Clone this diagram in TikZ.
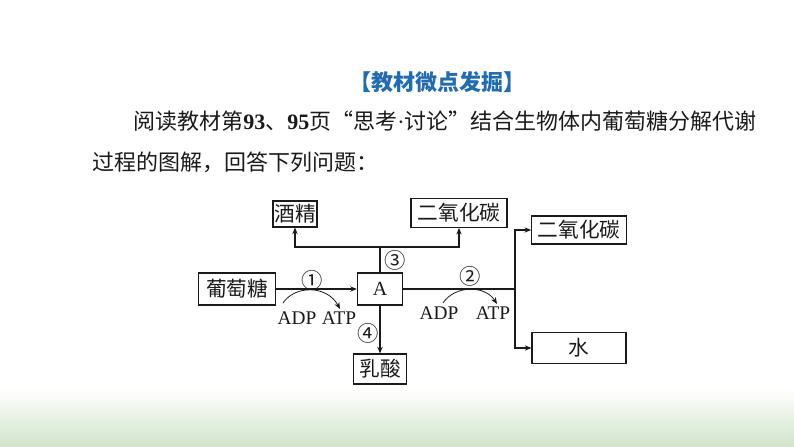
\documentclass[tikz,border=0pt]{standalone}
\usepackage{fontspec}
\setmainfont{Liberation Serif}
\newfontfamily\cjk{Noto Sans CJK SC}
\usetikzlibrary{arrows.meta, positioning, calc}
\definecolor{tblue}{HTML}{1F6CB4}
\definecolor{tgreen}{HTML}{D2E3CB}
\definecolor{tink}{HTML}{1A1A1A}

\tikzset{
  box/.style={draw=tink, line width=0.8pt, inner sep=0pt, text=tink,
    font=\cjk\fontsize{15.5}{15.5}\selectfont},
  flow/.style={draw=tink, line width=0.8pt, -{Stealth[length=5pt, width=4pt]}},
  link/.style={draw=tink, line width=0.8pt},
  arcflow/.style={draw=tink, line width=0.6pt, -{Stealth[length=5pt, width=4pt]}},
  lbl/.style={inner sep=0pt, text=tink, font=\fontsize{14.5}{14.5}\selectfont},
  num/.style={inner sep=0pt, text=tink, font=\cjk\fontsize{16}{16}\selectfont},
}

\begin{document}
\begin{tikzpicture}[x=0.75pt, y=-0.75pt]

%% Background
\useasboundingbox (0,0) rectangle (794,447);
\fill[white] (0,0) rectangle (794,447);
\shade[top color=white, bottom color=tgreen] (0,388) rectangle (794,447);

%% ── Heading and question text ─────────────────────────────────────────
\node[font=\cjk\bfseries\fontsize{16.5}{16.5}\selectfont, text=tblue] (title) at (437,82) {【教材微点发掘】};
\node[anchor=west, font=\cjk\fontsize{16.5}{16.5}\selectfont, text=tink, inner sep=0pt] (para1) at (133,121)
  {阅读教材第{\rmfamily\bfseries 93}、{\rmfamily\bfseries 95}页“思考{\rmfamily ·}讨论”结合生物体内葡萄糖分解代谢};
\node[anchor=west, font=\cjk\fontsize{16.5}{16.5}\selectfont, text=tink, inner sep=0pt] (para2) at (92,162)
  {过程的图解，回答下列问题：};

%% ── Boxes ─────────────────────────────────────────────────────────────
\node[box, minimum width=33pt, minimum height=19.5pt] (alcohol) at (295,214) {酒精};
\node[box, minimum width=72pt, minimum height=21.5pt] (co2a) at (459,213) {二氧化碳};
\node[box, minimum width=71pt, minimum height=21pt] (co2b) at (579,230) {二氧化碳};
\node[box, minimum width=58pt, minimum height=24pt] (glucose) at (237,289) {葡萄糖};
\node[box, minimum width=34pt, minimum height=24pt, font=\fontsize{15}{15}\selectfont] (A) at (380,289) {A};
\node[box, minimum width=40pt, minimum height=22.5pt] (lactic) at (380,369) {乳酸};
\node[box, minimum width=70.5pt, minimum height=23pt] (water) at (579,348) {水};

%% ── Step numbers ──────────────────────────────────────────────────────
\node[num] (s1) at (312,280) {①};
\node[num] (s2) at (470,276) {②};
\node[num] (s3) at (395,260) {③};
\node[num] (s4) at (368,333) {④};

%% ── Connectors ────────────────────────────────────────────────────────
\coordinate (split) at (380,247);
\coordinate (fork) at (515,289);
\draw[flow] (glucose) -- (A);
\draw[link] (A.north) -- (split);
\draw[flow] (split) -| (alcohol.south);
\draw[flow] (split) -| (co2a.south);
\draw[flow] (A.south) -- (lactic.north);
\draw[link] (A.east) -- (fork);
\draw[flow] (fork) |- (co2b.west);
\draw[flow] (fork) |- (water.west);

%% ── ADP / ATP ─────────────────────────────────────────────────────────
\node[lbl] (adp1) at (297,318) {ADP};
\node[lbl] (atp1) at (339,318) {ATP};
\node[lbl] (adp2) at (439,313) {ADP};
\node[lbl] (atp2) at (493,313) {ATP};
\coordinate (c1s) at (283,303);
\coordinate (c1e) at (340,309);
\coordinate (c2s) at (443,303);
\coordinate (c2e) at (497,304);
\draw[arcflow] (c1s) .. controls (295,285) and (327,285) .. (c1e);
\draw[arcflow] (c2s) .. controls (455,285) and (485,285) .. (c2e);

\end{tikzpicture}
\end{document}
